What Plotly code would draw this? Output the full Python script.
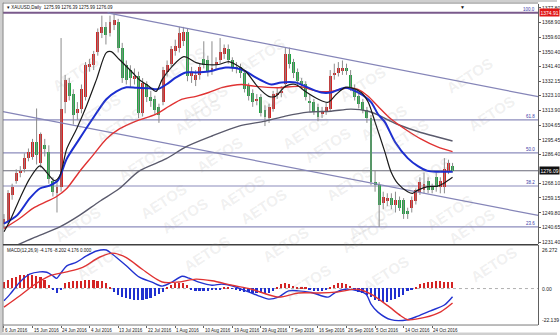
import plotly.graph_objects as go

W, H = 560, 336

# ---------------- data ----------------
opens = [1243, 1245, 1261, 1270, 1275, 1277, 1284, 1285, 1294, 1281,
         1292, 1288, 1270, 1262, 1266, 1319, 1331, 1324, 1312, 1315,
         1322, 1341, 1342, 1350, 1362, 1366, 1362, 1367, 1369, 1353,
         1342, 1339, 1334, 1335, 1312, 1330, 1322, 1321, 1316, 1319,
         1338, 1343, 1351, 1353, 1357, 1363, 1335, 1333, 1336, 1346,
         1345, 1339, 1342, 1345, 1349, 1352, 1345, 1341, 1341, 1337,
         1329, 1325, 1320, 1322, 1314, 1309, 1315, 1324, 1325, 1330,
         1349, 1344, 1338, 1332, 1330, 1320, 1319, 1316, 1312, 1313,
         1315, 1336, 1337, 1339, 1340, 1336, 1328, 1323, 1319, 1314,
         1309, 1269, 1267, 1256, 1257, 1259, 1255, 1258, 1258, 1251,
         1253, 1257, 1263, 1264, 1270, 1266, 1272, 1266, 1266, 1276,
         1279]
highs = [1249, 1264, 1268, 1277, 1279, 1287, 1290, 1296, 1315, 1300,
         1296, 1292, 1272, 1269, 1359, 1336, 1334, 1327, 1319, 1330,
         1344, 1346, 1351, 1365, 1373, 1369, 1373, 1375, 1371, 1356,
         1345, 1342, 1340, 1338, 1334, 1332, 1326, 1323, 1318, 1341,
         1345, 1354, 1358, 1366, 1366, 1365, 1341, 1339, 1343, 1357,
         1348, 1357, 1347, 1359, 1355, 1355, 1347, 1344, 1343, 1339,
         1331, 1327, 1324, 1324, 1317, 1318, 1326, 1328, 1329, 1353,
         1353, 1346, 1340, 1334, 1332, 1324, 1321, 1318, 1316, 1319,
         1339, 1343, 1344, 1345, 1343, 1339, 1330, 1325, 1321, 1316,
         1311, 1276, 1269, 1263, 1262, 1262, 1263, 1260, 1259, 1253,
         1260, 1265, 1272, 1275, 1272, 1268, 1275, 1272, 1284, 1283,
         1281]
lows = [1240, 1243, 1258, 1268, 1272, 1275, 1282, 1283, 1280, 1278,
        1285, 1268, 1260, 1250, 1263, 1312, 1320, 1305, 1308, 1312,
        1320, 1338, 1339, 1348, 1359, 1355, 1360, 1364, 1350, 1331,
        1330, 1328, 1330, 1309, 1310, 1319, 1316, 1311, 1306, 1317,
        1335, 1341, 1348, 1350, 1354, 1332, 1331, 1329, 1333, 1340,
        1335, 1336, 1339, 1343, 1346, 1343, 1338, 1337, 1334, 1325,
        1320, 1316, 1317, 1310, 1304, 1306, 1313, 1321, 1322, 1328,
        1340, 1334, 1329, 1327, 1320, 1313, 1311, 1307, 1309, 1311,
        1313, 1333, 1335, 1336, 1336, 1326, 1320, 1315, 1312, 1306,
        1267, 1263, 1241, 1252, 1254, 1252, 1250, 1251, 1246, 1246,
        1250, 1255, 1261, 1262, 1262, 1262, 1263, 1262, 1262, 1274,
        1275]
closes = [1246, 1262, 1266, 1275, 1276, 1284, 1288, 1294, 1286, 1299,
          1290, 1271, 1263, 1266, 1315, 1333, 1323, 1311, 1315, 1327,
          1342, 1343, 1349, 1363, 1366, 1361, 1369, 1370, 1353, 1334,
          1333, 1334, 1335, 1312, 1331, 1322, 1320, 1314, 1311, 1339,
          1342, 1352, 1354, 1362, 1363, 1335, 1338, 1336, 1341, 1342,
          1338, 1340, 1344, 1350, 1353, 1345, 1341, 1340, 1337, 1327,
          1323, 1319, 1321, 1312, 1310, 1316, 1324, 1325, 1326, 1349,
          1343, 1337, 1332, 1330, 1322, 1319, 1313, 1310, 1313, 1316,
          1335, 1337, 1340, 1340, 1339, 1328, 1322, 1318, 1314, 1309,
          1269, 1267, 1255, 1260, 1259, 1255, 1258, 1253, 1249, 1249,
          1258, 1264, 1269, 1268, 1264, 1264, 1266, 1270, 1277, 1281,
          1276.09]

date_labels = ["6 Jun 2016", "15 Jun 2016", "24 Jun 2016", "4 Jul 2016",
               "13 Jul 2016", "22 Jul 2016", "1 Aug 2016", "10 Aug 2016",
               "19 Aug 2016", "29 Aug 2016", "7 Sep 2016", "16 Sep 2016",
               "26 Sep 2016", "5 Oct 2016", "14 Oct 2016", "24 Oct 2016"]
date_step = 7

price_ticks = [1377.80, 1368.90, 1359.60, 1350.40, 1341.40, 1332.15, 1323.10,
               1313.90, 1304.65, 1295.45, 1286.40, 1268.10, 1259.15, 1249.80,
               1240.65, 1231.40]

# moving averages: (bar index, price)
ma_black_x = [0, 1.5, 3.9, 6.3, 8.8, 10.7, 12.4, 13.7, 15.4, 17.8, 20.2, 22.7, 25.1, 26.3,
              28.3, 31.5, 33.2, 35.6, 37.3, 38.8, 41.2, 44.1, 47.1, 49.5, 52.7, 55.1, 56.8,
              59.3, 62.4, 64.9, 66.6, 69, 71.5, 73.9, 77.1, 79.5, 81.5, 83.7, 85.1, 87.6,
              89.3, 91, 93.4, 94.9, 96.6, 99, 100.2, 101.5, 103.9, 106.3, 108, 110]
ma_black_y = [1238, 1245, 1258.8, 1271.2, 1279.2, 1274.3, 1270, 1273, 1289.8, 1302.2,
              1316.4, 1333.2, 1349.9, 1350.5, 1345.6, 1337.5, 1333, 1328.8, 1325.7, 1333.2,
              1341.2, 1347.4, 1343.7, 1342.5, 1342.5, 1344.3, 1342.5, 1338.1, 1328, 1322.6,
              1322.6, 1328.8, 1330, 1325.7, 1320.8, 1318.9, 1323.9, 1328.2, 1328, 1325,
              1319, 1306.5, 1287.9, 1275.5, 1268, 1263, 1262, 1264, 1266.2, 1266.5,
              1268.5, 1272]
ma_blue_x = [0, 3.2, 6.3, 8.8, 11.2, 13.2, 15.4, 18.5, 21.7, 25.1, 27.6, 30, 32.4, 35.6,
             37.6, 39.8, 42.2, 44.6, 47.1, 50.2, 54.4, 58.3, 61.7, 64.1, 65.6, 68, 71.5,
             74.6, 77.8, 80.2, 83.7, 86.8, 90, 91.7, 93.4, 95.9, 99, 101.5, 103.9, 106.3, 110]
ma_blue_y = [1243, 1248.2, 1258.8, 1265, 1266.8, 1270, 1283.6, 1296, 1308.4, 1320.8,
             1325.7, 1328.2, 1328, 1327.6, 1327, 1330, 1334.4, 1337.5, 1337.5, 1338.1,
             1340.6, 1339.4, 1334.4, 1331.3, 1330, 1331.3, 1331.3, 1328, 1325, 1325,
             1328, 1325, 1319, 1311.5, 1306.5, 1294.1, 1284, 1279, 1276, 1275.5, 1275.5]
ma_red_x = [0, 3.9, 7.1, 10.5, 12.9, 15.4, 18.5, 21.7, 25.1, 28.3, 32.4, 37.3, 40.5, 43.7,
            47.1, 50.2, 53.4, 55.9, 58.3, 61.7, 67.3, 72.2, 77.1, 80.2, 83.7, 86.8, 89.3,
            91.7, 94.9, 98.3, 102.2, 106.3, 110]
ma_red_y = [1240, 1246.4, 1252.6, 1256.9, 1260, 1265, 1275.5, 1285.4, 1296, 1302.2,
            1307.1, 1311.5, 1316.4, 1320.8, 1322.6, 1325, 1328, 1329.4, 1330, 1328.8,
            1328, 1328.8, 1325.7, 1325.7, 1327.6, 1327, 1322.6, 1316.4, 1308.4, 1302.2,
            1296, 1291, 1288]
ma_gray_x = [0, 7.1, 13.7, 18.5, 23.4, 28.3, 33.2, 39.8, 44.6, 51, 57.6, 64.1, 69, 74.6,
             80.2, 85.1, 89.3, 91.7, 94.9, 96.6, 102.2, 106.3, 110]
ma_gray_y = [1226, 1234, 1241, 1248.2, 1256.9, 1265, 1276, 1283.6, 1291, 1297.8, 1304,
             1307.1, 1310.2, 1312.7, 1313.3, 1314.6, 1313.3, 1311, 1307, 1305, 1300,
             1297.2, 1294.7]

# MACD pane
macd_x = [0, 1.5, 3.9, 6.3, 8.8, 10.5, 12, 12.9, 14.1, 15.4, 17.8, 20.2, 22.7, 25.1, 26.6,
          30, 33.2, 36.3, 38.8, 41.2, 43.7, 45.4, 47.8, 51, 53.4, 55.9, 59.3, 62.4, 64.9,
          67.3, 69.8, 72.2, 75.4, 79.5, 81.2, 83.7, 86.8, 88.8, 90, 91.7, 94.9, 99, 101.5,
          104.6, 108, 110]
macd_main = [-7.4, -3.4, 3.9, 8.7, 10.1, 9.9, 7.7, 6.2, 9.9, 13.8, 16, 19.8, 22.8, 23.4,
             20.8, 13.8, 6.9, 3.9, 1.5, 3.9, 7.5, 6.3, 3.9, 2, 2.7, 1.7, -1.4, -4.4, -6.4,
             -5.2, -1.4, -1.4, -2.4, -5.2, -2.4, -0.4, -1.4, -3.4, -9.4, -14.3, -18.9,
             -18.9, -16.7, -13.5, -10.0, -5.0]
signal_x = [0, 3.9, 7.1, 11.2, 15.4, 19.3, 23.4, 26.6, 30, 33.9, 38.8, 42.9, 47.1, 51, 55.9,
            60.7, 67.3, 72.2, 77.1, 82, 86.8, 90, 94.1, 97.3, 99, 103.2, 107.1, 110]
macd_signal = [-11.3, -4.4, 1.7, 7.7, 10.1, 12.9, 19, 21.5, 18.8, 11.7, 4, 4, 5.7, 4.7, 2,
               -0.4, -5.2, -2.7, -2.7, -2, -0.4, -3.4, -10.4, -16.5, -18.9, -17.5, -14.1, -8.8]
macd_hist = [3.6, 4.8, 6.0, 7.0, 7.8, 8.3, 8.4, 8.2, 7.6, 6.6,
             4.8, 2.2, -1.2, -2.6, -0.8, 3.4, 4.0, 4.2, 4.4, 4.6,
             4.8, 4.8, 4.8, 4.6, 4.2, 3.4, 0.5, -2.5, -4.0, -5.2,
             -6.0, -6.6, -7.0, -7.2, -7.0, -6.5, -5.8, -4.8, -3.6, -2.2,
             0.6, 2.0, 3.0, 3.4, 3.2, 2.2, -1.0, -1.4, -1.4, -1.4,
             -1.4, -1.2, -1.0, -0.6, 0.3, 0.2, -0.3, -1.0, -1.6, -2.0,
             -2.4, -2.6, -2.8, -3.0, -3.0, -2.8, -1.5, 1.0, 2.5, 3.2,
             2.8, 1.6, 0.6, 0.4, 0.3, -0.8, -1.4, -1.8, -1.6, -1.2,
             0.5, 2.2, 3.2, 3.4, 2.8, 1.6, -1.0, -2.2, -3.0, -4.0,
             -5.5, -7.0, -8.0, -8.4, -8.2, -7.4, -6.4, -5.2, -4.0, -1.8,
             -0.6, 0.3, 2.5, 3.5, 3.9, 4.1, 4.2, 4.2, 4.1, 4.0,
             3.9]
macd_max, macd_min = 26.272, -22.139

# drawings
fib_low, fib_high = 1199.6, 1374.9
fib_levels = [100.0, 61.8, 50.0, 38.2, 23.6]
alert_price = 1374.91
chan_upper_x = [25.4, 131]
chan_upper_y = [1374.7, 1322.4]
chan_lower_x = [-0.24, 131]
chan_lower_y = [1313.0, 1248.2]

# ---------------- layout geometry ----------------
def fx(p):
    return p / W

def fy(p):
    return 1 - p / H

X0, X1 = 3, 541
MAIN_T, MAIN_B = 4, 245
MACD_T, MACD_B = 246, 326
xr = [-0.244, 130.98]

n = len(closes)
idx = list(range(n))
up_col, dn_col = "#d42424", "#24a244"
fnt = "Liberation Sans"

fig = go.Figure()

# wicks
wx, wy = [], []
for i in idx:
    wx += [i, i, None]
    wy += [lows[i], highs[i], None]
fig.add_trace(go.Scatter(x=wx, y=wy, mode="lines", line=dict(color="#8c8c8c", width=1),
                         hoverinfo="skip", xaxis="x", yaxis="y"))
# bodies
body_base = [min(o, c) for o, c in zip(opens, closes)]
body_h = [max(abs(c - o), 0.6) for o, c in zip(opens, closes)]
body_col = [up_col if c >= o else dn_col for o, c in zip(opens, closes)]
fig.add_trace(go.Bar(x=idx, y=body_h, base=body_base, width=0.72,
                     marker=dict(color=body_col, line=dict(width=0)),
                     xaxis="x", yaxis="y"))

# channel lines
for cx, cy in [(chan_upper_x, chan_upper_y), (chan_lower_x, chan_lower_y)]:
    fig.add_trace(go.Scatter(x=cx, y=cy, mode="lines",
                             line=dict(color="#8585b8", width=1.2),
                             xaxis="x", yaxis="y"))

# moving averages
for mx, my, col, w in [(ma_gray_x, ma_gray_y, "#5a5a6c", 1.4),
                       (ma_red_x, ma_red_y, "#e03232", 1.4),
                       (ma_blue_x, ma_blue_y, "#1c2ed0", 2.0),
                       (ma_black_x, ma_black_y, "#1a1a1a", 1.2)]:
    fig.add_trace(go.Scatter(x=mx, y=my, mode="lines",
                             line=dict(color=col, width=w, shape="spline", smoothing=0.8),
                             xaxis="x", yaxis="y"))

# MACD histogram and lines
hist_col = [up_col if v >= 0 else "#2030d0" for v in macd_hist]
fig.add_trace(go.Bar(x=idx, y=macd_hist, width=0.42,
                     marker=dict(color=hist_col, line=dict(width=0)),
                     xaxis="x2", yaxis="y2"))
fig.add_trace(go.Scatter(x=macd_x, y=macd_main, mode="lines",
                         line=dict(color="#2232d0", width=1.4, shape="spline", smoothing=0.8),
                         xaxis="x2", yaxis="y2"))
fig.add_trace(go.Scatter(x=signal_x, y=macd_signal, mode="lines",
                         line=dict(color="#e03232", width=1.4, shape="spline", smoothing=0.8),
                         xaxis="x2", yaxis="y2"))

shapes = []
annots = []

# fib levels
for lv in fib_levels:
    p = fib_low + (fib_high - fib_low) * lv / 100.0
    col = "#7a5a8c" if lv == 100.0 else "#8c8cbc"
    wd = 2 if lv == 100.0 else 1.2
    shapes.append(dict(type="line", xref="paper", yref="y", x0=fx(X0), x1=fx(X1),
                       y0=p, y1=p, line=dict(color=col, width=wd), layer="below"))
    annots.append(dict(text=f"{lv:.1f}", xref="paper", yref="y", x=fx(X1 - 1), y=p,
                       xanchor="right", yanchor="bottom", showarrow=False, yshift=-1,
                       font=dict(size=4.5, color="#3a3aa8", family=fnt)))

# current price line
last = closes[-1]
shapes.append(dict(type="line", xref="paper", yref="y", x0=fx(X0), x1=fx(X1),
                   y0=last, y1=last, line=dict(color="#6a6a78", width=1), layer="below"))
# MACD zero line
shapes.append(dict(type="line", xref="paper", yref="y2", x0=fx(X0), x1=fx(X1),
                   y0=0, y1=0, line=dict(color="#b0b0b0", width=1, dash="dot"), layer="below"))

# frame
shapes += [
    dict(type="rect", xref="paper", yref="paper", x0=0, x1=fx(2.5), y0=0, y1=1,
         fillcolor="#cfcfcf", line=dict(width=0)),
    dict(type="rect", xref="paper", yref="paper", x0=0, x1=1, y0=fy(2), y1=1,
         fillcolor="#cfcfcf", line=dict(width=0)),
    dict(type="rect", xref="paper", yref="paper", x0=0, x1=1, y0=0, y1=fy(333.5),
         fillcolor="#cfcfcf", line=dict(width=0)),
    dict(type="line", xref="paper", yref="paper", x0=fx(3), x1=fx(3), y0=fy(333), y1=fy(2.5),
         line=dict(color="#7a7a7a", width=1)),
    dict(type="line", xref="paper", yref="paper", x0=fx(3), x1=fx(X1), y0=fy(3), y1=fy(3),
         line=dict(color="#7a7a7a", width=1.2)),
    dict(type="line", xref="paper", yref="paper", x0=fx(3), x1=fx(X1), y0=fy(245.5), y1=fy(245.5),
         line=dict(color="#404040", width=1.6)),
    dict(type="line", xref="paper", yref="paper", x0=fx(3), x1=fx(X1), y0=fy(326), y1=fy(326),
         line=dict(color="#7a7a7a", width=1)),
]

# price boxes on axis
annots.append(dict(text=f"{alert_price:.2f}", xref="paper", yref="y", x=fx(X1 + 0.5),
                   y=alert_price, xanchor="left", yanchor="middle", showarrow=False,
                   bgcolor="#e01818", borderpad=0.5,
                   font=dict(size=5, color="white", family=fnt)))
annots.append(dict(text=f"{last:.2f}", xref="paper", yref="y", x=fx(X1 + 0.5),
                   y=last, xanchor="left", yanchor="middle", showarrow=False,
                   bgcolor="#101010", borderpad=0.5,
                   font=dict(size=5, color="white", family=fnt)))

# MACD scale labels
for v, anc in [(macd_max, "top"), (0.0, "middle"), (macd_min, "bottom")]:
    txt = f"{v:.3f}" if v != 0 else "0.00"
    annots.append(dict(text=txt, xref="paper", yref="y2", x=fx(X1 + 2), y=v,
                       xanchor="left", yanchor=anc, showarrow=False,
                       font=dict(size=5, color="#202020", family=fnt)))

# date labels
for k, lab in enumerate(date_labels):
    annots.append(dict(text=lab, xref="x2", yref="paper", x=k * date_step - 0.2, y=fy(326.5),
                       xanchor="left", yanchor="top", showarrow=False,
                       font=dict(size=4.5, color="#202020", family=fnt)))

# titles
annots.append(dict(text="▾ XAUUSD,Daily  1275.99 1276.39 1275.99 1276.09", xref="paper",
                   yref="paper", x=fx(5), y=fy(3.5), xanchor="left", yanchor="top",
                   showarrow=False, font=dict(size=4.5, color="#101010", family=fnt)))
annots.append(dict(text="MACD(12,26,9) -4.176 -8.202 4.176 0.000", xref="paper",
                   yref="paper", x=fx(5), y=fy(247), xanchor="left", yanchor="top",
                   showarrow=False, font=dict(size=4.5, color="#101010", family=fnt)))
annots.append(dict(text="▼", xref="paper", yref="paper", x=fx(465), y=fy(2),
                   xanchor="center", yanchor="top", showarrow=False,
                   font=dict(size=5, color="#101010", family=fnt)))

# watermark (kept fully inside the picture)
for i in range(-4, 9):
    for j in range(-3, 11):
        wxp = 25 + i * 108 + j * 22
        wyp = 12 - i * 9 + j * 38
        if 30 <= wxp <= 530 and 24 <= wyp <= 312:
            annots.append(dict(text="<b>AETOS</b>", xref="paper", yref="paper",
                               x=fx(wxp), y=fy(wyp), showarrow=False, textangle=-33,
                               font=dict(size=15, color="rgba(150,150,150,0.15)", family=fnt)))

fig.update_layout(
    width=W, height=H, autosize=False,
    margin=dict(l=0, r=0, t=0, b=0, pad=0),
    paper_bgcolor="white", plot_bgcolor="white",
    showlegend=False, barmode="overlay", bargap=0,
    shapes=shapes, annotations=annots,
    xaxis=dict(domain=[fx(X0), fx(X1)], range=xr, showticklabels=False, showgrid=False,
               zeroline=False, anchor="y", fixedrange=True),
    xaxis2=dict(domain=[fx(X0), fx(X1)], range=xr, showticklabels=False, showgrid=False,
                zeroline=False, anchor="y2", matches="x",
                tickvals=[k * date_step for k in range(len(date_labels))],
                ticks="outside", ticklen=2, tickcolor="#606060"),
    yaxis=dict(domain=[fy(MAIN_B), fy(MAIN_T)], range=[1230.15, 1380.3], side="right",
               tickvals=price_ticks, ticktext=[f"{v:.2f}" for v in price_ticks],
               tickfont=dict(size=5, color="#202020", family=fnt),
               ticks="outside", ticklen=2, tickcolor="#606060",
               showgrid=False, zeroline=False, showline=True, linecolor="#606060",
               linewidth=1, anchor="x"),
    yaxis2=dict(domain=[fy(MACD_B), fy(MACD_T)], range=[macd_min, macd_max], side="right",
                showticklabels=False, showgrid=False, zeroline=False, showline=True,
                linecolor="#606060", linewidth=1, anchor="x2"),
)

fig.write_html("out.html", config={"displayModeBar": False})
